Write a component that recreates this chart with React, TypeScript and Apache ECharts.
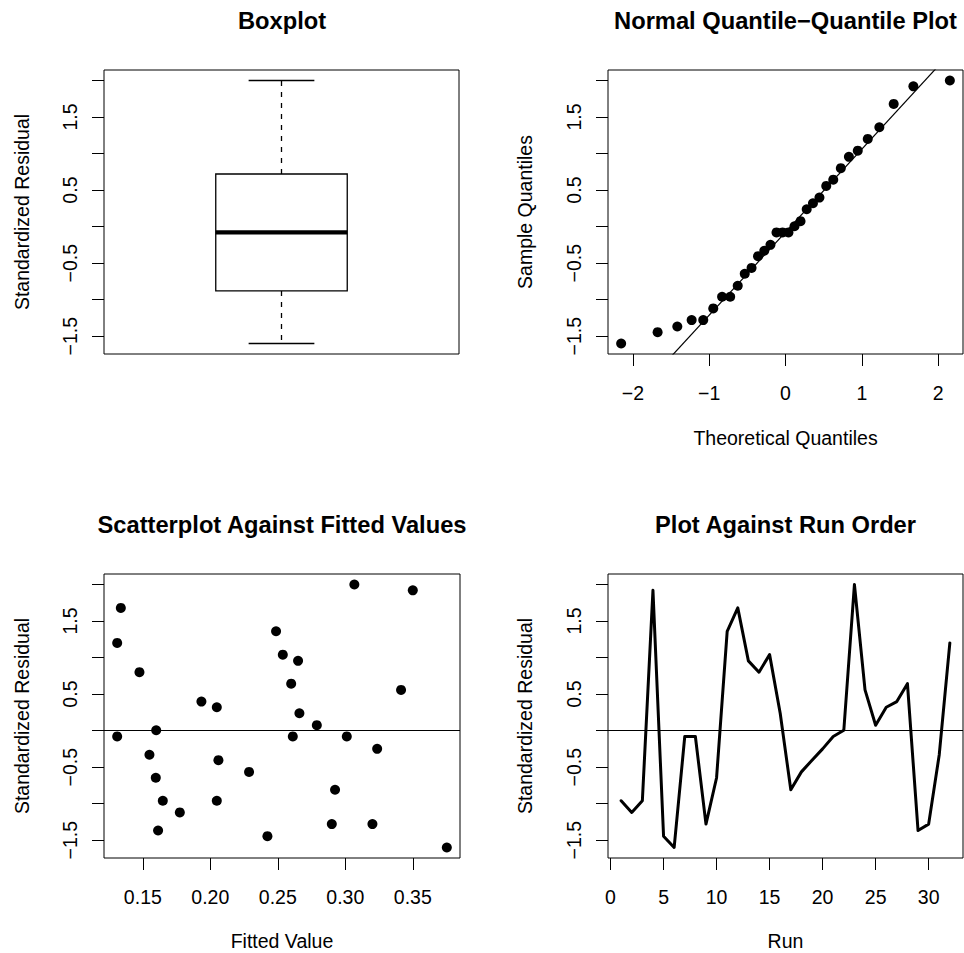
import React, { useEffect, useRef } from "react";
import * as echarts from "echarts";

// ---- data ----
const runs = [1, 2, 3, 4, 5, 6, 7, 8, 9, 10, 11, 12, 13, 14, 15, 16, 17, 18, 19, 20, 21, 22, 23, 24, 25, 26, 27, 28, 29, 30, 31, 32];
const residuals = [-0.96, -1.12, -0.96, 1.92, -1.445, -1.6, -0.08, -0.08, -1.28, -0.645, 1.36, 1.68, 0.955, 0.8, 1.04, 0.238, -0.81, -0.565, -0.405, -0.25, -0.08, 0.005, 2.0, 0.557, 0.074, 0.32, 0.397, 0.643, -1.368, -1.28, -0.33, 1.2];
const fittedValues = [0.1648, 0.1774, 0.2048, 0.35, 0.2423, 0.3752, 0.131, 0.2611, 0.29, 0.1596, 0.2487, 0.1337, 0.265, 0.1475, 0.2537, 0.266, 0.2924, 0.2287, 0.206, 0.3236, 0.3011, 0.1599, 0.3067, 0.3413, 0.2789, 0.2048, 0.1934, 0.2599, 0.1613, 0.3201, 0.1549, 0.131];
const theoreticalQuantiles = [-2.154, -1.676, -1.418, -1.23, -1.078, -0.947, -0.831, -0.725, -0.626, -0.534, -0.445, -0.36, -0.278, -0.197, -0.118, -0.039, 0.039, 0.118, 0.197, 0.278, 0.36, 0.445, 0.534, 0.626, 0.725, 0.831, 0.947, 1.078, 1.23, 1.418, 1.676, 2.154];
const boxStats = [-1.6, -0.88, -0.08, 0.72, 2.0]; // min, lower hinge, median, upper hinge, max
const qqLineSlope = 1.136;
const qqLineIntercept = -0.076;

const yTicks = [-1.5, -1, -0.5, 0, 0.5, 1, 1.5, 2];
const yTickLabels = [-1.5, -0.5, 0.5, 1.5];
const qqXTicks = [-2, -1, 0, 1, 2];
const fittedTicks = [0.15, 0.2, 0.25, 0.3, 0.35];
const runTicks = [0, 5, 10, 15, 20, 25, 30];

const titles = ["Boxplot", "Normal Quantile\u2212Quantile Plot", "Scatterplot Against Fitted Values", "Plot Against Run Order"];

// ---- styling / layout ----
const FONT = '"Liberation Sans", Arial, Helvetica, sans-serif';
const LABEL_SIZE = 19.5;
const TITLE_SIZE = 23.7;

const pad = (lo: number, hi: number) => {
  const d = (hi - lo) * 0.04;
  return [lo - d, hi + d];
};
const [yMin, yMax] = pad(Math.min(...residuals), Math.max(...residuals));
const [qxMin, qxMax] = pad(theoreticalQuantiles[0], theoreticalQuantiles[theoreticalQuantiles.length - 1]);
const [fxMin, fxMax] = pad(Math.min(...fittedValues), Math.max(...fittedValues));
const [rxMin, rxMax] = pad(runs[0], runs[runs.length - 1]);

const minus = (s: string) => s.replace("-", "\u2212");

const grids = [
  { left: 104, top: 70, width: 355, height: 284 },
  { left: 608, top: 70, width: 355, height: 284 },
  { left: 104, top: 574, width: 356, height: 284 },
  { left: 608, top: 574, width: 355, height: 284 },
];

const yAxisFor = (gi: number) => ({
  type: "value",
  gridIndex: gi,
  min: yMin,
  max: yMax,
  axisLine: { show: false, onZero: false },
  splitLine: { show: false },
  axisTick: { show: true, inside: false, length: 12, customValues: yTicks, lineStyle: { color: "#000", width: 1 } },
  axisLabel: {
    show: true,
    customValues: yTickLabels,
    rotate: 90,
    margin: 24,
    color: "#000",
    fontSize: LABEL_SIZE,
    fontFamily: FONT,
    formatter: (v: number) => minus(v.toFixed(1)),
  },
});

const xAxisFor = (gi: number, min: number, max: number, ticks: number[], fmt: (v: number) => string) => ({
  type: "value",
  gridIndex: gi,
  min,
  max,
  axisLine: { show: false, onZero: false },
  splitLine: { show: false },
  axisTick: { show: true, inside: false, length: 12, customValues: ticks, lineStyle: { color: "#000", width: 1 } },
  axisLabel: {
    show: true,
    customValues: ticks,
    margin: 29,
    color: "#000",
    fontSize: LABEL_SIZE,
    fontFamily: FONT,
    formatter: fmt,
  },
});

const txt = (text: string, x: number, y: number, opts: any = {}) => ({
  type: "text",
  x,
  y,
  rotation: opts.rotation || 0,
  style: {
    text,
    fill: "#000",
    fontSize: opts.size || LABEL_SIZE,
    fontWeight: opts.bold ? "bold" : "normal",
    fontFamily: FONT,
    align: "center",
    verticalAlign: "middle",
  },
});

const BOX_HALF = 0.2;
const CAP_HALF = 0.1;

const option: any = {
  animation: false,
  backgroundColor: "#fff",
  grid: grids.map((g) => ({ ...g, show: true, borderColor: "#000", borderWidth: 1, backgroundColor: "transparent" })),
  xAxis: [
    { type: "value", gridIndex: 0, min: 0.46, max: 1.54, show: false },
    xAxisFor(1, qxMin, qxMax, qqXTicks, (v) => minus(String(v))),
    xAxisFor(2, fxMin, fxMax, fittedTicks, (v) => v.toFixed(2)),
    xAxisFor(3, rxMin, rxMax, runTicks, (v) => String(v)),
  ],
  yAxis: [yAxisFor(0), yAxisFor(1), yAxisFor(2), yAxisFor(3)],
  series: [
    {
      type: "custom",
      xAxisIndex: 0,
      yAxisIndex: 0,
      data: [[1, ...boxStats]],
      renderItem: (params: any, api: any) => {
        const x = api.value(0);
        const lo = api.value(1);
        const q1 = api.value(2);
        const med = api.value(3);
        const q3 = api.value(4);
        const hi = api.value(5);
        const p = (a: number, b: number) => api.coord([a, b]);
        const seg = (a: number[], b: number[], style: any) => ({
          type: "line",
          shape: { x1: a[0], y1: a[1], x2: b[0], y2: b[1] },
          style: { stroke: "#000", lineWidth: 1.3, ...style },
        });
        const tl = p(x - BOX_HALF, q3);
        const br = p(x + BOX_HALF, q1);
        return {
          type: "group",
          children: [
            seg(p(x, q3), p(x, hi), { lineDash: [5, 6] }),
            seg(p(x, q1), p(x, lo), { lineDash: [5, 6] }),
            seg(p(x - CAP_HALF, hi), p(x + CAP_HALF, hi), {}),
            seg(p(x - CAP_HALF, lo), p(x + CAP_HALF, lo), {}),
            {
              type: "rect",
              shape: { x: tl[0], y: tl[1], width: br[0] - tl[0], height: br[1] - tl[1] },
              style: { fill: "#fff", stroke: "#000", lineWidth: 1.3 },
            },
            seg(p(x - BOX_HALF, med), p(x + BOX_HALF, med), { lineWidth: 4.3 }),
          ],
        };
      },
    },
    {
      type: "scatter",
      xAxisIndex: 1,
      yAxisIndex: 1,
      symbol: "circle",
      symbolSize: 10,
      itemStyle: { color: "#000", opacity: 1 },
      data: [...residuals].sort((a, b) => a - b).map((v, i) => [theoreticalQuantiles[i], v]),
    },
    {
      type: "line",
      xAxisIndex: 1,
      yAxisIndex: 1,
      showSymbol: false,
      symbol: "none",
      clip: true,
      lineStyle: { color: "#000", width: 1.2 },
      data: [qxMin, qxMax].map((x) => [x, qqLineIntercept + qqLineSlope * x]),
    },
    {
      type: "scatter",
      xAxisIndex: 2,
      yAxisIndex: 2,
      symbol: "circle",
      symbolSize: 10,
      itemStyle: { color: "#000", opacity: 1 },
      data: fittedValues.map((f, i) => [f, residuals[i]]),
      markLine: {
        silent: true,
        symbol: "none",
        label: { show: false },
        lineStyle: { color: "#000", width: 1.2, type: "solid" },
        data: [{ yAxis: 0 }],
      },
    },
    {
      type: "line",
      xAxisIndex: 3,
      yAxisIndex: 3,
      showSymbol: false,
      symbol: "none",
      lineStyle: { color: "#000", width: 3, join: "round", cap: "round" },
      data: runs.map((r, i) => [r, residuals[i]]),
      markLine: {
        silent: true,
        symbol: "none",
        label: { show: false },
        lineStyle: { color: "#000", width: 1.2, type: "solid" },
        data: [{ yAxis: 0 }],
      },
    },
  ],
  graphic: [
    txt(titles[0], 282, 21, { size: TITLE_SIZE, bold: true }),
    txt(titles[1], 785.5, 21, { size: TITLE_SIZE, bold: true }),
    txt(titles[2], 282, 525, { size: TITLE_SIZE, bold: true }),
    txt(titles[3], 785.5, 525, { size: TITLE_SIZE, bold: true }),
    txt("Standardized Residual", 22, 212, { rotation: Math.PI / 2 }),
    txt("Sample Quantiles", 525, 212, { rotation: Math.PI / 2 }),
    txt("Standardized Residual", 22, 716, { rotation: Math.PI / 2 }),
    txt("Standardized Residual", 525, 716, { rotation: Math.PI / 2 }),
    txt("Theoretical Quantiles", 785.5, 437.5, {}),
    txt("Fitted Value", 282, 941, {}),
    txt("Run", 785.5, 941, {}),
  ],
};

export default function App() {
  const ref = useRef<HTMLDivElement>(null);
  useEffect(() => {
    if (!ref.current) return;
    const chart = echarts.init(ref.current, null, { renderer: "svg" });
    chart.setOption(option);
    return () => chart.dispose();
  }, []);
  return (
    <div
      ref={ref}
      style={{ position: "fixed", left: 0, top: 0, width: 964, height: 953, background: "#fff" }}
    />
  );
}
